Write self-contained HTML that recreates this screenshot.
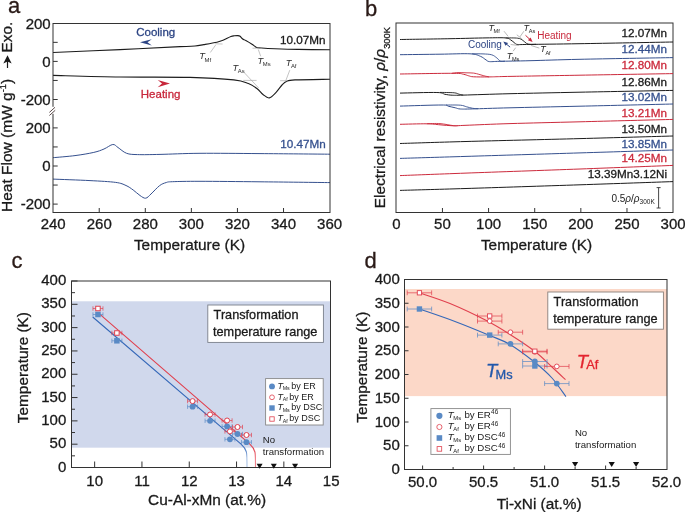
<!DOCTYPE html>
<html><head><meta charset="utf-8"><style>html,body{margin:0;padding:0;background:#fff;}svg{display:block;will-change:transform;}</style></head>
<body><svg width="685" height="512" viewBox="0 0 685 512" font-family="Liberation Sans, sans-serif">
<rect width="685" height="512" fill="#fff"/>
<text stroke="#2a1a17" stroke-width="0.3" transform="translate(8.00,12.70) scale(1,1.0)" x="0" y="0" font-size="22" fill="#2a1a17" text-anchor="start" >a</text>
<text stroke="#2a1a17" stroke-width="0.3" transform="translate(365.00,15.80) scale(1,1.0)" x="0" y="0" font-size="22" fill="#2a1a17" text-anchor="start" >b</text>
<text stroke="#2a1a17" stroke-width="0.3" transform="translate(11.50,267.80) scale(1,1.0)" x="0" y="0" font-size="22" fill="#2a1a17" text-anchor="start" >c</text>
<text stroke="#2a1a17" stroke-width="0.3" transform="translate(364.60,268.00) scale(1,1.0)" x="0" y="0" font-size="22" fill="#2a1a17" text-anchor="start" >d</text>
<path d="M53.00,52.50 C64.17,52.02 98.83,50.58 120.00,49.60 C141.17,48.62 167.50,47.20 180.00,46.60 C192.50,46.00 191.03,46.33 195.00,46.00 C198.97,45.67 200.15,45.23 203.80,44.60 C207.45,43.97 213.70,42.92 216.90,42.20 C220.10,41.48 220.67,41.25 223.00,40.30 C225.33,39.35 228.98,37.25 230.90,36.50 C232.82,35.75 233.33,35.95 234.50,35.80 C235.67,35.65 236.97,35.52 237.90,35.60 C238.83,35.68 239.30,35.73 240.10,36.30 C240.90,36.87 241.75,38.30 242.70,39.00 C243.65,39.70 244.25,39.63 245.80,40.50 C247.35,41.37 250.20,43.05 252.00,44.20 C253.80,45.35 254.98,46.77 256.60,47.40 C258.22,48.03 258.63,47.78 261.70,48.00 C264.77,48.22 268.95,48.47 275.00,48.70 C281.05,48.93 288.83,49.22 298.00,49.40 C307.17,49.58 324.67,49.73 330.00,49.80" fill="none" stroke="#1c1c1c" stroke-width="1.1" stroke-linejoin="round" />
<path d="M53.00,75.40 C64.17,75.67 97.17,76.67 120.00,77.00 C142.83,77.33 171.03,76.92 190.00,77.40 C208.97,77.88 224.07,78.87 233.80,79.90 C243.53,80.93 244.50,82.13 248.40,83.60 C252.30,85.07 254.77,86.88 257.20,88.70 C259.63,90.52 260.98,92.97 263.00,94.50 C265.02,96.03 267.12,98.27 269.30,97.90 C271.48,97.53 273.98,94.45 276.10,92.30 C278.22,90.15 280.28,86.82 282.00,85.00 C283.72,83.18 284.23,82.25 286.40,81.40 C288.57,80.55 287.73,80.25 295.00,79.90 C302.27,79.55 324.17,79.40 330.00,79.30" fill="none" stroke="#1c1c1c" stroke-width="1.1" stroke-linejoin="round" />
<path d="M53.00,157.70 C56.67,157.35 68.20,156.48 75.00,155.60 C81.80,154.72 88.97,153.50 93.80,152.40 C98.63,151.30 100.83,150.32 104.00,149.00 C107.17,147.68 110.47,144.75 112.80,144.50 C115.13,144.25 115.70,146.03 118.00,147.50 C120.30,148.97 123.33,152.12 126.60,153.30 C129.87,154.48 132.03,154.42 137.60,154.60 C143.17,154.78 149.60,154.62 160.00,154.40 C170.40,154.18 183.33,153.43 200.00,153.30 C216.67,153.17 238.33,153.45 260.00,153.60 C281.67,153.75 318.33,154.10 330.00,154.20" fill="none" stroke="#35508e" stroke-width="1.0" stroke-linejoin="round" />
<path d="M53.00,179.10 C59.17,179.35 79.55,180.05 90.00,180.60 C100.45,181.15 109.70,181.58 115.70,182.40 C121.70,183.22 123.08,184.23 126.00,185.50 C128.92,186.77 130.87,188.33 133.20,190.00 C135.53,191.67 137.92,194.13 140.00,195.50 C142.08,196.87 143.87,198.45 145.70,198.20 C147.53,197.95 148.70,196.08 151.00,194.00 C153.30,191.92 157.00,187.60 159.50,185.70 C162.00,183.80 163.82,183.27 166.00,182.60 C168.18,181.93 166.93,181.92 172.60,181.70 C178.27,181.48 185.43,181.28 200.00,181.30 C214.57,181.32 238.33,181.58 260.00,181.80 C281.67,182.02 318.33,182.47 330.00,182.60" fill="none" stroke="#35508e" stroke-width="1.0" stroke-linejoin="round" />
<line x1="215.10" y1="43.80" x2="222.60" y2="44.00" stroke="#aaaaaa" stroke-width="0.7" />
<line x1="210.30" y1="52.50" x2="215.60" y2="45.10" stroke="#aaaaaa" stroke-width="0.7" />
<line x1="252.50" y1="48.20" x2="261.70" y2="48.20" stroke="#aaaaaa" stroke-width="0.7" />
<line x1="258.30" y1="49.50" x2="260.70" y2="56.30" stroke="#aaaaaa" stroke-width="0.7" />
<line x1="243.30" y1="80.40" x2="256.60" y2="80.40" stroke="#aaaaaa" stroke-width="0.7" />
<line x1="244.30" y1="72.70" x2="258.70" y2="88.00" stroke="#aaaaaa" stroke-width="0.7" />
<line x1="280.10" y1="80.70" x2="287.30" y2="80.70" stroke="#aaaaaa" stroke-width="0.7" />
<line x1="289.80" y1="70.10" x2="285.70" y2="80.90" stroke="#aaaaaa" stroke-width="0.7" />
<rect x="53.0" y="23.5" width="277.0" height="189.0" fill="none" stroke="#333" stroke-width="1"/>
<rect x="51.5" y="106.8" width="3" height="7.0" fill="#fff"/>
<line x1="49.40" y1="112.40" x2="55.00" y2="107.30" stroke="#4a3838" stroke-width="0.9" />
<line x1="49.40" y1="115.50" x2="55.20" y2="110.30" stroke="#4a3838" stroke-width="0.9" />
<line x1="53.00" y1="42.35" x2="57.70" y2="42.35" stroke="#333" stroke-width="1" />
<line x1="53.00" y1="61.40" x2="57.70" y2="61.40" stroke="#333" stroke-width="1" />
<line x1="53.00" y1="80.45" x2="57.70" y2="80.45" stroke="#333" stroke-width="1" />
<line x1="53.00" y1="99.50" x2="57.70" y2="99.50" stroke="#333" stroke-width="1" />
<line x1="53.00" y1="127.90" x2="57.70" y2="127.90" stroke="#333" stroke-width="1" />
<line x1="53.00" y1="146.95" x2="57.70" y2="146.95" stroke="#333" stroke-width="1" />
<line x1="53.00" y1="166.00" x2="57.70" y2="166.00" stroke="#333" stroke-width="1" />
<line x1="53.00" y1="185.05" x2="57.70" y2="185.05" stroke="#333" stroke-width="1" />
<line x1="53.00" y1="204.10" x2="57.70" y2="204.10" stroke="#333" stroke-width="1" />
<text stroke="#1a1a1a" stroke-width="0.3" transform="translate(50.70,28.50) scale(1,1.0)" x="0" y="0" font-size="15" fill="#1a1a1a" text-anchor="end" >200</text>
<text stroke="#1a1a1a" stroke-width="0.3" transform="translate(50.70,133.10) scale(1,1.0)" x="0" y="0" font-size="15" fill="#1a1a1a" text-anchor="end" >200</text>
<text stroke="#1a1a1a" stroke-width="0.3" transform="translate(50.70,66.60) scale(1,1.0)" x="0" y="0" font-size="15" fill="#1a1a1a" text-anchor="end" >0</text>
<text stroke="#1a1a1a" stroke-width="0.3" transform="translate(50.70,171.20) scale(1,1.0)" x="0" y="0" font-size="15" fill="#1a1a1a" text-anchor="end" >0</text>
<text stroke="#1a1a1a" stroke-width="0.3" transform="translate(50.70,104.70) scale(1,1.0)" x="0" y="0" font-size="15" fill="#1a1a1a" text-anchor="end" >-200</text>
<text stroke="#1a1a1a" stroke-width="0.3" transform="translate(50.70,209.30) scale(1,1.0)" x="0" y="0" font-size="15" fill="#1a1a1a" text-anchor="end" >-200</text>
<line x1="99.22" y1="212.50" x2="99.22" y2="208.00" stroke="#333" stroke-width="1" />
<line x1="145.30" y1="212.50" x2="145.30" y2="208.00" stroke="#333" stroke-width="1" />
<line x1="191.37" y1="212.50" x2="191.37" y2="208.00" stroke="#333" stroke-width="1" />
<line x1="237.45" y1="212.50" x2="237.45" y2="208.00" stroke="#333" stroke-width="1" />
<line x1="283.52" y1="212.50" x2="283.52" y2="208.00" stroke="#333" stroke-width="1" />
<text stroke="#1a1a1a" stroke-width="0.3" transform="translate(53.15,228.80) scale(1,1.0)" x="0" y="0" font-size="15" fill="#1a1a1a" text-anchor="middle" >240</text>
<text stroke="#1a1a1a" stroke-width="0.3" transform="translate(99.22,228.80) scale(1,1.0)" x="0" y="0" font-size="15" fill="#1a1a1a" text-anchor="middle" >260</text>
<text stroke="#1a1a1a" stroke-width="0.3" transform="translate(145.30,228.80) scale(1,1.0)" x="0" y="0" font-size="15" fill="#1a1a1a" text-anchor="middle" >280</text>
<text stroke="#1a1a1a" stroke-width="0.3" transform="translate(191.37,228.80) scale(1,1.0)" x="0" y="0" font-size="15" fill="#1a1a1a" text-anchor="middle" >300</text>
<text stroke="#1a1a1a" stroke-width="0.3" transform="translate(237.45,228.80) scale(1,1.0)" x="0" y="0" font-size="15" fill="#1a1a1a" text-anchor="middle" >320</text>
<text stroke="#1a1a1a" stroke-width="0.3" transform="translate(283.52,228.80) scale(1,1.0)" x="0" y="0" font-size="15" fill="#1a1a1a" text-anchor="middle" >340</text>
<text stroke="#1a1a1a" stroke-width="0.3" transform="translate(329.59,228.80) scale(1,1.0)" x="0" y="0" font-size="15" fill="#1a1a1a" text-anchor="middle" >360</text>
<text stroke="#1a1a1a" stroke-width="0.3" transform="translate(189.50,250.30) scale(1,1.0)" x="0" y="0" font-size="15.4" fill="#1a1a1a" text-anchor="middle" >Temperature (K)</text>
<text stroke="#1a1a1a" stroke-width="0.3" transform="translate(11.9,212.0) rotate(-90) scale(1,1.0)" font-size="15.5" fill="#1a1a1a">Heat Flow (mW g<tspan font-size="9.2" dy="-5.8">-1</tspan><tspan dy="5.8">)</tspan></text>
<text stroke="#1a1a1a" stroke-width="0.3" transform="translate(11.8,52.4) rotate(-90) scale(1,1.0)" font-size="15.4" fill="#1a1a1a">Exo.</text>
<line x1="7.50" y1="68.00" x2="7.50" y2="60.00" stroke="#1a1a1a" stroke-width="1.2" />
<path d="M7.5,55.2 L3.3,63.6 L7.5,61.6 L11.7,63.6 Z" fill="#1a1a1a"/>
<text stroke="#1a1a1a" stroke-width="0.3" transform="translate(325.60,44.00) scale(1,1.0)" x="0" y="0" font-size="11.7" fill="#1a1a1a" text-anchor="end" >10.07Mn</text>
<text stroke="#35508e" stroke-width="0.3" transform="translate(325.80,148.00) scale(1,1.0)" x="0" y="0" font-size="11.7" fill="#35508e" text-anchor="end" >10.47Mn</text>
<text stroke="#2d4584" stroke-width="0.3" transform="translate(136.20,36.30) scale(1,1.0)" x="0" y="0" font-size="11.5" fill="#2d4584" text-anchor="start" >Cooling</text>
<text stroke="#c8283c" stroke-width="0.3" transform="translate(140.80,98.00) scale(1,1.0)" x="0" y="0" font-size="11.5" fill="#c8283c" text-anchor="start" >Heating</text>
<path d="M140,42.3 L151.8,39.2 L147.5,42.3 L151.8,45.4 Z" fill="#2d4584"/>
<path d="M170,83.6 L157.7,80 L162,83.6 L157.7,87.2 Z" fill="#c8283c"/>
<text transform="translate(199.30,59.20) scale(1,1.0)" x="0" y="0" font-size="9.3" fill="#2a2a2a"><tspan font-style="italic">T</tspan><tspan font-size="5.9" dx="-0.5" dy="2.4">Mf</tspan></text>
<text transform="translate(257.60,63.70) scale(1,1.0)" x="0" y="0" font-size="9.3" fill="#2a2a2a"><tspan font-style="italic">T</tspan><tspan font-size="5.9" dx="-0.5" dy="2.4">Ms</tspan></text>
<text transform="translate(232.60,70.70) scale(1,1.0)" x="0" y="0" font-size="9.3" fill="#2a2a2a"><tspan font-style="italic">T</tspan><tspan font-size="5.9" dx="-0.5" dy="2.4">As</tspan></text>
<text transform="translate(285.70,65.50) scale(1,1.0)" x="0" y="0" font-size="9.3" fill="#2a2a2a"><tspan font-style="italic">T</tspan><tspan font-size="5.9" dx="-0.5" dy="2.4">Af</tspan></text>
<rect x="396.0" y="23.0" width="277.0" height="189.5" fill="none" stroke="#333" stroke-width="1"/>
<line x1="442.44" y1="212.50" x2="442.44" y2="208.00" stroke="#333" stroke-width="1" />
<line x1="488.57" y1="212.50" x2="488.57" y2="208.00" stroke="#333" stroke-width="1" />
<line x1="534.71" y1="212.50" x2="534.71" y2="208.00" stroke="#333" stroke-width="1" />
<line x1="580.84" y1="212.50" x2="580.84" y2="208.00" stroke="#333" stroke-width="1" />
<line x1="626.98" y1="212.50" x2="626.98" y2="208.00" stroke="#333" stroke-width="1" />
<text stroke="#1a1a1a" stroke-width="0.3" transform="translate(396.30,228.80) scale(1,1.0)" x="0" y="0" font-size="15" fill="#1a1a1a" text-anchor="middle" >0</text>
<text stroke="#1a1a1a" stroke-width="0.3" transform="translate(442.44,228.80) scale(1,1.0)" x="0" y="0" font-size="15" fill="#1a1a1a" text-anchor="middle" >50</text>
<text stroke="#1a1a1a" stroke-width="0.3" transform="translate(488.57,228.80) scale(1,1.0)" x="0" y="0" font-size="15" fill="#1a1a1a" text-anchor="middle" >100</text>
<text stroke="#1a1a1a" stroke-width="0.3" transform="translate(534.71,228.80) scale(1,1.0)" x="0" y="0" font-size="15" fill="#1a1a1a" text-anchor="middle" >150</text>
<text stroke="#1a1a1a" stroke-width="0.3" transform="translate(580.84,228.80) scale(1,1.0)" x="0" y="0" font-size="15" fill="#1a1a1a" text-anchor="middle" >200</text>
<text stroke="#1a1a1a" stroke-width="0.3" transform="translate(626.98,228.80) scale(1,1.0)" x="0" y="0" font-size="15" fill="#1a1a1a" text-anchor="middle" >250</text>
<text stroke="#1a1a1a" stroke-width="0.3" transform="translate(673.11,228.80) scale(1,1.0)" x="0" y="0" font-size="15" fill="#1a1a1a" text-anchor="middle" >300</text>
<text stroke="#1a1a1a" stroke-width="0.3" transform="translate(536.50,250.30) scale(1,1.0)" x="0" y="0" font-size="15.4" fill="#1a1a1a" text-anchor="middle" >Temperature (K)</text>
<text stroke="#1a1a1a" stroke-width="0.3" transform="translate(385.0,208.2) rotate(-90) scale(1,1.0)" font-size="15.4" fill="#1a1a1a">Electrical resistivity, <tspan font-style="italic">ρ</tspan>/<tspan font-style="italic">ρ</tspan><tspan font-size="9.3" dy="5.2">300K</tspan></text>
<path d="M400.00,39.50 C408.33,39.37 435.67,38.97 450.00,38.70 C464.33,38.43 476.75,38.03 486.00,37.90 C495.25,37.77 501.38,37.57 505.50,37.90 C509.62,38.23 509.17,39.05 510.70,39.90 C512.23,40.75 513.52,42.23 514.70,43.00 C515.88,43.77 515.25,44.27 517.80,44.50 C520.35,44.73 519.63,44.53 530.00,44.40 C540.37,44.27 556.17,44.10 580.00,43.70 C603.83,43.30 657.50,42.28 673.00,42.00" fill="none" stroke="#1c1c1c" stroke-width="1.0" stroke-linejoin="round" />
<path d="M400.00,54.70 C406.67,54.62 428.33,54.35 440.00,54.20 C451.67,54.05 463.27,53.45 470.00,53.80 C476.73,54.15 477.73,55.28 480.40,56.30 C483.07,57.32 484.48,59.02 486.00,59.90 C487.52,60.78 487.17,61.37 489.50,61.60 C491.83,61.83 493.25,61.45 500.00,61.30 C506.75,61.15 516.67,61.03 530.00,60.70 C543.33,60.37 556.17,59.82 580.00,59.30 C603.83,58.78 657.50,57.88 673.00,57.60" fill="none" stroke="#35508e" stroke-width="1.0" stroke-linejoin="round" />
<path d="M400.00,74.00 C408.83,73.88 442.42,73.25 453.00,73.30 C463.58,73.35 460.90,73.88 463.50,74.30 C466.10,74.72 466.90,75.38 468.60,75.80 C470.30,76.22 470.30,76.62 473.70,76.80 C477.10,76.98 482.95,76.97 489.00,76.90 C495.05,76.83 494.83,76.68 510.00,76.40 C525.17,76.12 552.83,75.67 580.00,75.20 C607.17,74.73 657.50,73.87 673.00,73.60" fill="none" stroke="#cc2a3c" stroke-width="1.0" stroke-linejoin="round" />
<path d="M400.00,93.10 C406.15,93.00 429.40,92.30 436.90,92.50 C444.40,92.70 442.45,93.85 445.00,94.30 C447.55,94.75 449.13,95.07 452.20,95.20 C455.27,95.33 453.77,95.35 463.40,95.10 C473.03,94.85 490.57,94.18 510.00,93.70 C529.43,93.22 552.83,92.75 580.00,92.20 C607.17,91.65 657.50,90.70 673.00,90.40" fill="none" stroke="#1c1c1c" stroke-width="1.0" stroke-linejoin="round" />
<path d="M400.00,106.10 C407.00,105.92 433.97,104.98 442.00,105.00 C450.03,105.02 445.98,105.73 448.20,106.20 C450.42,106.67 453.27,107.33 455.30,107.80 C457.33,108.27 457.50,108.82 460.40,109.00 C463.30,109.18 464.43,109.10 472.70,108.90 C480.97,108.70 492.12,108.25 510.00,107.80 C527.88,107.35 552.83,106.83 580.00,106.20 C607.17,105.57 657.50,104.37 673.00,104.00" fill="none" stroke="#35508e" stroke-width="1.0" stroke-linejoin="round" />
<path d="M400.00,124.30 C404.45,124.22 420.03,123.72 426.70,123.80 C433.37,123.88 435.58,124.47 440.00,124.80 C444.42,125.13 448.87,125.72 453.20,125.80 C457.53,125.88 456.53,125.67 466.00,125.30 C475.47,124.93 491.00,124.18 510.00,123.60 C529.00,123.02 552.83,122.50 580.00,121.80 C607.17,121.10 657.50,119.80 673.00,119.40" fill="none" stroke="#cc2a3c" stroke-width="1.0" stroke-linejoin="round" />
<path d="M400.00,143.50 C411.00,143.17 436.00,142.32 466.00,141.50 C496.00,140.68 545.50,139.52 580.00,138.60 C614.50,137.68 657.50,136.43 673.00,136.00" fill="none" stroke="#1c1c1c" stroke-width="1.0" stroke-linejoin="round" />
<path d="M400.00,158.40 C411.00,158.07 436.00,157.32 466.00,156.40 C496.00,155.48 545.50,153.97 580.00,152.90 C614.50,151.83 657.50,150.48 673.00,150.00" fill="none" stroke="#35508e" stroke-width="1.0" stroke-linejoin="round" />
<path d="M400.00,175.60 C411.00,175.18 436.00,174.20 466.00,173.10 C496.00,172.00 545.50,170.28 580.00,169.00 C614.50,167.72 657.50,166.00 673.00,165.40" fill="none" stroke="#cc2a3c" stroke-width="1.0" stroke-linejoin="round" />
<path d="M400.00,190.40 C411.00,190.08 436.00,189.43 466.00,188.50 C496.00,187.57 545.50,185.95 580.00,184.80 C614.50,183.65 657.50,182.13 673.00,181.60" fill="none" stroke="#1c1c1c" stroke-width="1.0" stroke-linejoin="round" />
<path d="M505.50,37.90 C507.55,37.95 514.90,37.78 517.80,38.20 C520.70,38.62 521.45,39.53 522.90,40.40 C524.35,41.27 525.30,42.73 526.50,43.40 C527.70,44.07 528.52,44.25 530.10,44.40 C531.68,44.55 535.02,44.32 536.00,44.30" fill="none" stroke="#1c1c1c" stroke-width="0.9" stroke-linejoin="round" />
<path d="M472.00,53.80 C473.83,53.82 479.72,53.73 483.00,53.90 C486.28,54.07 489.40,54.13 491.70,54.80 C494.00,55.47 495.35,56.85 496.80,57.90 C498.25,58.95 499.03,60.55 500.40,61.10 C501.77,61.65 504.23,61.18 505.00,61.20" fill="none" stroke="#35508e" stroke-width="0.9" stroke-linejoin="round" />
<path d="M452.00,73.30 C453.00,73.18 455.67,72.68 458.00,72.60 C460.33,72.52 463.38,72.72 466.00,72.80 C468.62,72.88 471.57,72.85 473.70,73.10 C475.83,73.35 477.10,73.85 478.80,74.30 C480.50,74.75 482.20,75.37 483.90,75.80 C485.60,76.23 488.15,76.72 489.00,76.90" fill="none" stroke="#cc2a3c" stroke-width="0.9" stroke-linejoin="round" />
<path d="M440.00,92.40 C442.37,92.47 450.97,92.48 454.20,92.80 C457.43,93.12 457.87,93.92 459.40,94.30 C460.93,94.68 462.73,94.97 463.40,95.10" fill="none" stroke="#1c1c1c" stroke-width="0.9" stroke-linejoin="round" />
<path d="M446.00,105.00 C448.40,105.03 456.97,104.90 460.40,105.20 C463.83,105.50 464.55,106.28 466.60,106.80 C468.65,107.32 470.80,107.98 472.70,108.30 C474.60,108.62 477.12,108.63 478.00,108.70" fill="none" stroke="#35508e" stroke-width="0.9" stroke-linejoin="round" />
<path d="M426.70,123.70 C428.92,123.68 435.58,123.28 440.00,123.60 C444.42,123.92 450.20,125.27 453.20,125.60 C456.20,125.93 457.20,125.60 458.00,125.60" fill="none" stroke="#cc2a3c" stroke-width="0.9" stroke-linejoin="round" />
<text transform="translate(488.40,30.80) scale(1,1.0)" x="0" y="0" font-size="9.0" fill="#222"><tspan font-style="italic">T</tspan><tspan font-size="5.6" dx="-0.4" dy="2.2">Mf</tspan></text>
<text transform="translate(523.60,30.80) scale(1,1.0)" x="0" y="0" font-size="9.0" fill="#222"><tspan font-style="italic">T</tspan><tspan font-size="5.6" dx="-0.4" dy="2.2">As</tspan></text>
<text transform="translate(506.80,58.60) scale(1,1.0)" x="0" y="0" font-size="9.0" fill="#222"><tspan font-style="italic">T</tspan><tspan font-size="5.6" dx="-0.4" dy="2.2">Ms</tspan></text>
<text transform="translate(540.30,52.30) scale(1,1.0)" x="0" y="0" font-size="9.0" fill="#222"><tspan font-style="italic">T</tspan><tspan font-size="5.6" dx="-0.4" dy="2.2">Af</tspan></text>
<line x1="504.00" y1="31.20" x2="508.10" y2="36.30" stroke="#8a8a8a" stroke-width="0.6" />
<line x1="523.90" y1="31.20" x2="519.90" y2="36.90" stroke="#8a8a8a" stroke-width="0.6" />
<line x1="516.80" y1="34.80" x2="521.90" y2="38.90" stroke="#8a8a8a" stroke-width="0.6" />
<line x1="510.70" y1="44.50" x2="518.80" y2="45.50" stroke="#8a8a8a" stroke-width="0.6" />
<line x1="531.10" y1="45.50" x2="539.30" y2="48.10" stroke="#8a8a8a" stroke-width="0.6" />
<line x1="513.10" y1="51.20" x2="515.70" y2="47.70" stroke="#8a8a8a" stroke-width="0.6" />
<text transform="translate(537.20,38.60) scale(1,1.0)" x="0" y="0" font-size="10" fill="#c8283c" text-anchor="start" >Heating</text>
<text transform="translate(468.00,48.30) scale(1,1.0)" x="0" y="0" font-size="10" fill="#2d4584" text-anchor="start" >Cooling</text>
<line x1="525.50" y1="35.30" x2="530.50" y2="40.00" stroke="#c8283c" stroke-width="1.0" />
<path d="M532.6,42.0 L527.9,40.2 L530.6,37.6 Z" fill="#c8283c"/>
<line x1="510.10" y1="47.10" x2="505.30" y2="43.20" stroke="#2d4584" stroke-width="1.0" />
<path d="M503.3,41.5 L508.1,42.9 L505.6,45.7 Z" fill="#2d4584"/>
<text stroke="#1a1a1a" stroke-width="0.3" transform="translate(667.00,36.90) scale(1,1.0)" x="0" y="0" font-size="11.7" fill="#1a1a1a" text-anchor="end" >12.07Mn</text>
<text stroke="#35508e" stroke-width="0.3" transform="translate(667.00,53.00) scale(1,1.0)" x="0" y="0" font-size="11.7" fill="#35508e" text-anchor="end" >12.44Mn</text>
<text stroke="#cc2a3c" stroke-width="0.3" transform="translate(667.00,69.00) scale(1,1.0)" x="0" y="0" font-size="11.7" fill="#cc2a3c" text-anchor="end" >12.80Mn</text>
<text stroke="#1a1a1a" stroke-width="0.3" transform="translate(667.00,85.60) scale(1,1.0)" x="0" y="0" font-size="11.7" fill="#1a1a1a" text-anchor="end" >12.86Mn</text>
<text stroke="#35508e" stroke-width="0.3" transform="translate(667.00,101.40) scale(1,1.0)" x="0" y="0" font-size="11.7" fill="#35508e" text-anchor="end" >13.02Mn</text>
<text stroke="#cc2a3c" stroke-width="0.3" transform="translate(667.00,117.00) scale(1,1.0)" x="0" y="0" font-size="11.7" fill="#cc2a3c" text-anchor="end" >13.21Mn</text>
<text stroke="#1a1a1a" stroke-width="0.3" transform="translate(667.00,132.80) scale(1,1.0)" x="0" y="0" font-size="11.7" fill="#1a1a1a" text-anchor="end" >13.50Mn</text>
<text stroke="#35508e" stroke-width="0.3" transform="translate(667.00,148.00) scale(1,1.0)" x="0" y="0" font-size="11.7" fill="#35508e" text-anchor="end" >13.85Mn</text>
<text stroke="#cc2a3c" stroke-width="0.3" transform="translate(667.00,162.40) scale(1,1.0)" x="0" y="0" font-size="11.7" fill="#cc2a3c" text-anchor="end" >14.25Mn</text>
<text stroke="#1a1a1a" stroke-width="0.3" transform="translate(667.00,178.40) scale(1,1.0)" x="0" y="0" font-size="11.7" fill="#1a1a1a" text-anchor="end" >13.39Mn3.12Ni</text>
<line x1="658.60" y1="187.60" x2="658.60" y2="208.00" stroke="#333" stroke-width="0.9" />
<line x1="656.60" y1="187.60" x2="660.60" y2="187.60" stroke="#333" stroke-width="0.9" />
<line x1="656.60" y1="208.00" x2="660.60" y2="208.00" stroke="#333" stroke-width="0.9" />
<text transform="translate(611.4,201.5) scale(1,1.0)" x="0" y="0" font-size="10" fill="#1a1a1a">0.5<tspan font-style="italic">ρ</tspan>/<tspan font-style="italic">ρ</tspan><tspan font-size="6.5" dy="2.5">300K</tspan></text>
<rect x="71.5" y="301.28" width="259.0" height="146.40" fill="#d0d8ec"/>
<rect x="404.5" y="289.00" width="262.5" height="107.11" fill="#fcd8c8"/>
<defs><linearGradient id="gb" gradientUnits="userSpaceOnUse" x1="0" y1="446" x2="0" y2="458"><stop offset="0" stop-color="#3568b8"/><stop offset="1" stop-color="#a9c2e4"/></linearGradient><linearGradient id="gr" gradientUnits="userSpaceOnUse" x1="0" y1="448" x2="0" y2="460"><stop offset="0" stop-color="#e0404e"/><stop offset="1" stop-color="#f0808a"/></linearGradient></defs>
<path d="M92.7,317.0 L240.8,443.9 C243.5,446.3 245.6,449.0 246.4,452.0 C247.0,455 247.0,458 247.0,467.2" fill="none" stroke="url(#gb)" stroke-width="1.1"/>
<path d="M98.5,313.2 L249.6,443.9 C252.3,446.3 254.3,449.5 255.0,452.3 C255.5,455 255.5,458 255.5,467.2" fill="none" stroke="url(#gr)" stroke-width="1.1"/>
<path d="M92.96,308.50 H102.96 M92.96,306.30 V310.70 M102.96,306.30 V310.70" stroke="#e0404e" stroke-width="0.8" fill="none" opacity="0.85"/>
<path d="M92.96,314.50 H102.96 M92.96,312.30 V316.70 M102.96,312.30 V316.70" stroke="#5a8ac5" stroke-width="0.8" fill="none" opacity="0.85"/>
<path d="M111.88,333.00 H121.88 M111.88,330.80 V335.20 M121.88,330.80 V335.20" stroke="#e0404e" stroke-width="0.8" fill="none" opacity="0.85"/>
<path d="M111.88,340.80 H121.88 M111.88,338.60 V343.00 M121.88,338.60 V343.00" stroke="#5a8ac5" stroke-width="0.8" fill="none" opacity="0.85"/>
<path d="M187.56,401.10 H197.56 M187.56,398.90 V403.30 M197.56,398.90 V403.30" stroke="#e0404e" stroke-width="0.8" fill="none" opacity="0.85"/>
<path d="M187.56,406.70 H197.56 M187.56,404.50 V408.90 M197.56,404.50 V408.90" stroke="#5a8ac5" stroke-width="0.8" fill="none" opacity="0.85"/>
<path d="M205.06,414.50 H215.06 M205.06,412.30 V416.70 M215.06,412.30 V416.70" stroke="#e0404e" stroke-width="0.8" fill="none" opacity="0.85"/>
<path d="M205.06,420.80 H215.06 M205.06,418.60 V423.00 M215.06,418.60 V423.00" stroke="#5a8ac5" stroke-width="0.8" fill="none" opacity="0.85"/>
<path d="M222.09,420.50 H232.09 M222.09,418.30 V422.70 M232.09,418.30 V422.70" stroke="#e0404e" stroke-width="0.8" fill="none" opacity="0.85"/>
<path d="M222.09,426.40 H232.09 M222.09,424.20 V428.60 M232.09,424.20 V428.60" stroke="#5a8ac5" stroke-width="0.8" fill="none" opacity="0.85"/>
<path d="M224.93,431.40 H234.93 M224.93,429.20 V433.60 M234.93,429.20 V433.60" stroke="#e0404e" stroke-width="0.8" fill="none" opacity="0.85"/>
<path d="M224.93,439.30 H234.93 M224.93,437.10 V441.50 M234.93,437.10 V441.50" stroke="#5a8ac5" stroke-width="0.8" fill="none" opacity="0.85"/>
<path d="M232.50,427.00 H242.50 M232.50,424.80 V429.20 M242.50,424.80 V429.20" stroke="#e0404e" stroke-width="0.8" fill="none" opacity="0.85"/>
<path d="M232.50,434.00 H242.50 M232.50,431.80 V436.20 M242.50,431.80 V436.20" stroke="#5a8ac5" stroke-width="0.8" fill="none" opacity="0.85"/>
<path d="M241.48,435.00 H251.48 M241.48,432.80 V437.20 M251.48,432.80 V437.20" stroke="#e0404e" stroke-width="0.8" fill="none" opacity="0.85"/>
<path d="M241.48,442.20 H251.48 M241.48,440.00 V444.40 M251.48,440.00 V444.40" stroke="#5a8ac5" stroke-width="0.8" fill="none" opacity="0.85"/>
<rect x="95.21" y="311.75" width="5.5" height="5.5" fill="#5a8ac5"/>
<rect x="95.71" y="306.25" width="4.5" height="4.5" fill="#fff" stroke="#e0404e" stroke-width="1.0"/>
<rect x="114.13" y="338.05" width="5.5" height="5.5" fill="#5a8ac5"/>
<rect x="114.63" y="330.75" width="4.5" height="4.5" fill="#fff" stroke="#e0404e" stroke-width="1.0"/>
<circle cx="192.56" cy="406.70" r="2.9" fill="#5a8ac5"/>
<circle cx="192.56" cy="401.10" r="2.5" fill="#fff" stroke="#e0404e" stroke-width="1.0"/>
<circle cx="210.06" cy="420.80" r="2.9" fill="#5a8ac5"/>
<circle cx="210.06" cy="414.50" r="2.5" fill="#fff" stroke="#e0404e" stroke-width="1.0"/>
<circle cx="227.09" cy="426.40" r="2.9" fill="#5a8ac5"/>
<circle cx="227.09" cy="420.50" r="2.5" fill="#fff" stroke="#e0404e" stroke-width="1.0"/>
<circle cx="229.93" cy="439.30" r="2.9" fill="#5a8ac5"/>
<circle cx="229.93" cy="431.40" r="2.5" fill="#fff" stroke="#e0404e" stroke-width="1.0"/>
<circle cx="237.50" cy="434.00" r="2.9" fill="#5a8ac5"/>
<circle cx="237.50" cy="427.00" r="2.5" fill="#fff" stroke="#e0404e" stroke-width="1.0"/>
<circle cx="246.48" cy="442.20" r="2.9" fill="#5a8ac5"/>
<circle cx="246.48" cy="435.00" r="2.5" fill="#fff" stroke="#e0404e" stroke-width="1.0"/>
<rect x="71.5" y="281.0" width="259.0" height="186.5" fill="none" stroke="#333" stroke-width="1"/>
<line x1="71.50" y1="467.50" x2="77.50" y2="467.50" stroke="#333" stroke-width="1" />
<text stroke="#1a1a1a" stroke-width="0.3" transform="translate(66.30,471.50) scale(1,1.0)" x="0" y="0" font-size="15" fill="#1a1a1a" text-anchor="end" >0</text>
<line x1="71.50" y1="444.19" x2="77.50" y2="444.19" stroke="#333" stroke-width="1" />
<text stroke="#1a1a1a" stroke-width="0.3" transform="translate(66.30,448.19) scale(1,1.0)" x="0" y="0" font-size="15" fill="#1a1a1a" text-anchor="end" >50</text>
<line x1="71.50" y1="420.88" x2="77.50" y2="420.88" stroke="#333" stroke-width="1" />
<text stroke="#1a1a1a" stroke-width="0.3" transform="translate(66.30,424.88) scale(1,1.0)" x="0" y="0" font-size="15" fill="#1a1a1a" text-anchor="end" >100</text>
<line x1="71.50" y1="397.56" x2="77.50" y2="397.56" stroke="#333" stroke-width="1" />
<text stroke="#1a1a1a" stroke-width="0.3" transform="translate(66.30,401.56) scale(1,1.0)" x="0" y="0" font-size="15" fill="#1a1a1a" text-anchor="end" >150</text>
<line x1="71.50" y1="374.25" x2="77.50" y2="374.25" stroke="#333" stroke-width="1" />
<text stroke="#1a1a1a" stroke-width="0.3" transform="translate(66.30,378.25) scale(1,1.0)" x="0" y="0" font-size="15" fill="#1a1a1a" text-anchor="end" >200</text>
<line x1="71.50" y1="350.94" x2="77.50" y2="350.94" stroke="#333" stroke-width="1" />
<text stroke="#1a1a1a" stroke-width="0.3" transform="translate(66.30,354.94) scale(1,1.0)" x="0" y="0" font-size="15" fill="#1a1a1a" text-anchor="end" >250</text>
<line x1="71.50" y1="327.62" x2="77.50" y2="327.62" stroke="#333" stroke-width="1" />
<text stroke="#1a1a1a" stroke-width="0.3" transform="translate(66.30,331.62) scale(1,1.0)" x="0" y="0" font-size="15" fill="#1a1a1a" text-anchor="end" >300</text>
<line x1="71.50" y1="304.31" x2="77.50" y2="304.31" stroke="#333" stroke-width="1" />
<text stroke="#1a1a1a" stroke-width="0.3" transform="translate(66.30,308.31) scale(1,1.0)" x="0" y="0" font-size="15" fill="#1a1a1a" text-anchor="end" >350</text>
<line x1="71.50" y1="281.00" x2="77.50" y2="281.00" stroke="#333" stroke-width="1" />
<text stroke="#1a1a1a" stroke-width="0.3" transform="translate(66.30,285.00) scale(1,1.0)" x="0" y="0" font-size="15" fill="#1a1a1a" text-anchor="end" >400</text>
<line x1="71.50" y1="455.84" x2="75.00" y2="455.84" stroke="#333" stroke-width="1" />
<line x1="71.50" y1="432.53" x2="75.00" y2="432.53" stroke="#333" stroke-width="1" />
<line x1="71.50" y1="409.22" x2="75.00" y2="409.22" stroke="#333" stroke-width="1" />
<line x1="71.50" y1="385.91" x2="75.00" y2="385.91" stroke="#333" stroke-width="1" />
<line x1="71.50" y1="362.59" x2="75.00" y2="362.59" stroke="#333" stroke-width="1" />
<line x1="71.50" y1="339.28" x2="75.00" y2="339.28" stroke="#333" stroke-width="1" />
<line x1="71.50" y1="315.97" x2="75.00" y2="315.97" stroke="#333" stroke-width="1" />
<line x1="71.50" y1="292.66" x2="75.00" y2="292.66" stroke="#333" stroke-width="1" />
<line x1="94.65" y1="467.50" x2="94.65" y2="461.50" stroke="#333" stroke-width="1" />
<line x1="141.95" y1="467.50" x2="141.95" y2="461.50" stroke="#333" stroke-width="1" />
<line x1="189.25" y1="467.50" x2="189.25" y2="461.50" stroke="#333" stroke-width="1" />
<line x1="236.55" y1="467.50" x2="236.55" y2="461.50" stroke="#333" stroke-width="1" />
<line x1="283.85" y1="467.50" x2="283.85" y2="461.50" stroke="#333" stroke-width="1" />
<text stroke="#1a1a1a" stroke-width="0.3" transform="translate(94.65,486.30) scale(1,1.0)" x="0" y="0" font-size="15" fill="#1a1a1a" text-anchor="middle" >10</text>
<text stroke="#1a1a1a" stroke-width="0.3" transform="translate(141.95,486.30) scale(1,1.0)" x="0" y="0" font-size="15" fill="#1a1a1a" text-anchor="middle" >11</text>
<text stroke="#1a1a1a" stroke-width="0.3" transform="translate(189.25,486.30) scale(1,1.0)" x="0" y="0" font-size="15" fill="#1a1a1a" text-anchor="middle" >12</text>
<text stroke="#1a1a1a" stroke-width="0.3" transform="translate(236.55,486.30) scale(1,1.0)" x="0" y="0" font-size="15" fill="#1a1a1a" text-anchor="middle" >13</text>
<text stroke="#1a1a1a" stroke-width="0.3" transform="translate(283.85,486.30) scale(1,1.0)" x="0" y="0" font-size="15" fill="#1a1a1a" text-anchor="middle" >14</text>
<text stroke="#1a1a1a" stroke-width="0.3" transform="translate(331.15,486.30) scale(1,1.0)" x="0" y="0" font-size="15" fill="#1a1a1a" text-anchor="middle" >15</text>
<text stroke="#1a1a1a" stroke-width="0.3" transform="translate(207.10,505.00) scale(1,1.0)" x="0" y="0" font-size="15.4" fill="#1a1a1a" text-anchor="middle" >Cu-Al-xMn (at.%)</text>
<text stroke="#1a1a1a" stroke-width="0.3" transform="translate(27.5,423.2) rotate(-90) scale(1,1.0)" font-size="15.4" fill="#1a1a1a">Temperature (K)</text>
<path d="M256.60,463.7 L262.60,463.7 L259.60,468.8 Z" fill="#111"/>
<path d="M270.79,463.7 L276.79,463.7 L273.79,468.8 Z" fill="#111"/>
<path d="M292.07,463.7 L298.07,463.7 L295.07,468.8 Z" fill="#111"/>
<text transform="translate(262.70,443.40) scale(1,1.0)" x="0" y="0" font-size="9.6" fill="#1a1a1a" text-anchor="start" >No</text>
<text transform="translate(262.80,455.10) scale(1,1.0)" x="0" y="0" font-size="9.6" fill="#1a1a1a" text-anchor="start" >transformation</text>
<rect x="207.8" y="305.0" width="115.6" height="37.4" fill="#fff" stroke="#7a7f8a" stroke-width="0.9"/>
<text stroke="#1a1a1a" stroke-width="0.3" transform="translate(213.60,319.40) scale(1,1.0)" x="0" y="0" font-size="12.7" fill="#1a1a1a" text-anchor="start" >Transformation</text>
<text stroke="#1a1a1a" stroke-width="0.3" transform="translate(213.00,336.20) scale(1,1.0)" x="0" y="0" font-size="12.7" fill="#1a1a1a" text-anchor="start" >temperature range</text>
<rect x="265.6" y="378.6" width="57.6" height="46.4" fill="#fff" stroke="#888" stroke-width="0.9"/>
<circle cx="272.00" cy="386.40" r="2.95" fill="#5a8ac5"/>
<text transform="translate(277.40,388.60) scale(1,1.0)" x="0" y="0" font-size="9.0" fill="#1a1a1a"><tspan font-style="italic">T</tspan><tspan font-size="5.3" dx="-0.2" dy="1.6">Ms</tspan><tspan dy="-1.6" dx="1.5">by ER</tspan></text>
<circle cx="272.00" cy="397.30" r="2.4" fill="#fff" stroke="#e0404e" stroke-width="0.8"/>
<text transform="translate(277.40,399.50) scale(1,1.0)" x="0" y="0" font-size="9.0" fill="#1a1a1a"><tspan font-style="italic">T</tspan><tspan font-size="5.3" dx="-0.2" dy="1.6">Af</tspan><tspan dy="-1.6" dx="1.5">by ER</tspan></text>
<rect x="269.30" y="405.30" width="5.4" height="5.4" fill="#5a8ac5"/>
<text transform="translate(277.40,410.20) scale(1,1.0)" x="0" y="0" font-size="9.0" fill="#1a1a1a"><tspan font-style="italic">T</tspan><tspan font-size="5.3" dx="-0.2" dy="1.6">Ms</tspan><tspan dy="-1.6" dx="1.5">by DSC</tspan></text>
<rect x="269.80" y="416.80" width="4.4" height="4.4" fill="#fff" stroke="#e0404e" stroke-width="0.8"/>
<text transform="translate(277.40,421.20) scale(1,1.0)" x="0" y="0" font-size="9.0" fill="#1a1a1a"><tspan font-style="italic">T</tspan><tspan font-size="5.3" dx="-0.2" dy="1.6">Af</tspan><tspan dy="-1.6" dx="1.5">by DSC</tspan></text>
<path d="M419.40,292.80 C424.50,294.58 439.00,298.95 450.00,303.50 C461.00,308.05 475.40,314.93 485.40,320.10 C495.40,325.27 501.73,329.27 510.00,334.50 C518.27,339.73 528.00,346.08 535.00,351.50 C542.00,356.92 546.92,362.30 552.00,367.00 C557.08,371.70 563.25,377.58 565.50,379.70" fill="none" stroke="#e0404e" stroke-width="1.1"/>
<path d="M419.40,309.00 C425.33,311.08 443.48,317.17 455.00,321.50 C466.52,325.83 479.33,331.17 488.50,335.00 C497.67,338.83 502.25,339.92 510.00,344.50 C517.75,349.08 528.00,356.92 535.00,362.50 C542.00,368.08 546.85,372.32 552.00,378.00 C557.15,383.68 563.58,393.50 565.90,396.60" fill="none" stroke="#3568b8" stroke-width="1.1"/>
<path d="M407.23,292.80 H431.63 M407.23,290.40 V295.20 M431.63,290.40 V295.20" stroke="#e0404e" stroke-width="0.9" fill="none" opacity="0.8"/>
<path d="M407.23,309.00 H431.63 M407.23,306.60 V311.40 M431.63,306.60 V311.40" stroke="#5a8ac5" stroke-width="0.9" fill="none" opacity="0.8"/>
<path d="M477.50,316.00 H501.90 M477.50,313.60 V318.40 M501.90,313.60 V318.40" stroke="#e0404e" stroke-width="0.9" fill="none" opacity="0.8"/>
<path d="M477.50,321.10 H501.90 M477.50,318.70 V323.50 M501.90,318.70 V323.50" stroke="#e0404e" stroke-width="0.9" fill="none" opacity="0.8"/>
<path d="M477.50,335.10 H501.90 M477.50,332.70 V337.50 M501.90,332.70 V337.50" stroke="#5a8ac5" stroke-width="0.9" fill="none" opacity="0.8"/>
<path d="M498.24,332.20 H522.64 M498.24,329.80 V334.60 M522.64,329.80 V334.60" stroke="#e0404e" stroke-width="0.9" fill="none" opacity="0.8"/>
<path d="M498.24,343.90 H522.64 M498.24,341.50 V346.30 M522.64,341.50 V346.30" stroke="#5a8ac5" stroke-width="0.9" fill="none" opacity="0.8"/>
<path d="M522.64,351.20 H547.04 M522.64,348.80 V353.60 M547.04,348.80 V353.60" stroke="#e0404e" stroke-width="0.9" fill="none" opacity="0.8"/>
<path d="M522.64,351.90 H547.04 M522.64,349.50 V354.30 M547.04,349.50 V354.30" stroke="#e0404e" stroke-width="0.9" fill="none" opacity="0.8"/>
<path d="M522.64,361.50 H547.04 M522.64,359.10 V363.90 M547.04,359.10 V363.90" stroke="#5a8ac5" stroke-width="0.9" fill="none" opacity="0.8"/>
<path d="M522.64,366.00 H547.04 M522.64,363.60 V368.40 M547.04,363.60 V368.40" stroke="#5a8ac5" stroke-width="0.9" fill="none" opacity="0.8"/>
<path d="M544.60,366.40 H569.00 M544.60,364.00 V368.80 M569.00,364.00 V368.80" stroke="#e0404e" stroke-width="0.9" fill="none" opacity="0.8"/>
<path d="M544.60,383.60 H569.00 M544.60,381.20 V386.00 M569.00,381.20 V386.00" stroke="#5a8ac5" stroke-width="0.9" fill="none" opacity="0.8"/>
<rect x="417.28" y="290.65" width="4.3" height="4.3" fill="#fff" stroke="#e0404e" stroke-width="0.9"/>
<rect x="416.73" y="306.30" width="5.4" height="5.4" fill="#5a8ac5"/>
<rect x="487.55" y="313.85" width="4.3" height="4.3" fill="#fff" stroke="#e0404e" stroke-width="0.9"/>
<circle cx="489.70" cy="321.10" r="2.3499999999999996" fill="#fff" stroke="#e0404e" stroke-width="0.9"/>
<rect x="487.00" y="332.40" width="5.4" height="5.4" fill="#5a8ac5"/>
<circle cx="510.44" cy="332.20" r="2.3499999999999996" fill="#fff" stroke="#e0404e" stroke-width="0.9"/>
<circle cx="510.44" cy="343.90" r="2.9" fill="#5a8ac5"/>
<circle cx="534.84" cy="351.90" r="2.3499999999999996" fill="#fff" stroke="#e0404e" stroke-width="0.9"/>
<rect x="532.69" y="349.05" width="4.3" height="4.3" fill="#fff" stroke="#e0404e" stroke-width="0.9"/>
<circle cx="534.84" cy="361.50" r="2.9" fill="#5a8ac5"/>
<rect x="532.14" y="363.30" width="5.4" height="5.4" fill="#5a8ac5"/>
<circle cx="556.80" cy="366.40" r="2.3499999999999996" fill="#fff" stroke="#e0404e" stroke-width="0.9"/>
<circle cx="556.80" cy="383.60" r="2.9" fill="#5a8ac5"/>
<rect x="404.5" y="279.5" width="262.5" height="190.0" fill="none" stroke="#333" stroke-width="1"/>
<line x1="404.50" y1="469.50" x2="408.50" y2="469.50" stroke="#333" stroke-width="1" />
<text stroke="#1a1a1a" stroke-width="0.3" transform="translate(399.80,474.10) scale(1,1.0)" x="0" y="0" font-size="15" fill="#1a1a1a" text-anchor="end" >0</text>
<line x1="404.50" y1="445.75" x2="408.50" y2="445.75" stroke="#333" stroke-width="1" />
<text stroke="#1a1a1a" stroke-width="0.3" transform="translate(399.80,450.35) scale(1,1.0)" x="0" y="0" font-size="15" fill="#1a1a1a" text-anchor="end" >50</text>
<line x1="404.50" y1="422.00" x2="408.50" y2="422.00" stroke="#333" stroke-width="1" />
<text stroke="#1a1a1a" stroke-width="0.3" transform="translate(399.80,426.60) scale(1,1.0)" x="0" y="0" font-size="15" fill="#1a1a1a" text-anchor="end" >100</text>
<line x1="404.50" y1="398.25" x2="408.50" y2="398.25" stroke="#333" stroke-width="1" />
<text stroke="#1a1a1a" stroke-width="0.3" transform="translate(399.80,402.85) scale(1,1.0)" x="0" y="0" font-size="15" fill="#1a1a1a" text-anchor="end" >150</text>
<line x1="404.50" y1="374.50" x2="408.50" y2="374.50" stroke="#333" stroke-width="1" />
<text stroke="#1a1a1a" stroke-width="0.3" transform="translate(399.80,379.10) scale(1,1.0)" x="0" y="0" font-size="15" fill="#1a1a1a" text-anchor="end" >200</text>
<line x1="404.50" y1="350.75" x2="408.50" y2="350.75" stroke="#333" stroke-width="1" />
<text stroke="#1a1a1a" stroke-width="0.3" transform="translate(399.80,355.35) scale(1,1.0)" x="0" y="0" font-size="15" fill="#1a1a1a" text-anchor="end" >250</text>
<line x1="404.50" y1="327.00" x2="408.50" y2="327.00" stroke="#333" stroke-width="1" />
<text stroke="#1a1a1a" stroke-width="0.3" transform="translate(399.80,331.60) scale(1,1.0)" x="0" y="0" font-size="15" fill="#1a1a1a" text-anchor="end" >300</text>
<line x1="404.50" y1="303.25" x2="408.50" y2="303.25" stroke="#333" stroke-width="1" />
<text stroke="#1a1a1a" stroke-width="0.3" transform="translate(399.80,307.85) scale(1,1.0)" x="0" y="0" font-size="15" fill="#1a1a1a" text-anchor="end" >350</text>
<line x1="404.50" y1="279.50" x2="408.50" y2="279.50" stroke="#333" stroke-width="1" />
<text stroke="#1a1a1a" stroke-width="0.3" transform="translate(399.80,284.10) scale(1,1.0)" x="0" y="0" font-size="15" fill="#1a1a1a" text-anchor="end" >400</text>
<line x1="422.60" y1="469.50" x2="422.60" y2="465.50" stroke="#333" stroke-width="1" />
<line x1="453.10" y1="469.50" x2="453.10" y2="467.00" stroke="#333" stroke-width="1" />
<line x1="483.60" y1="469.50" x2="483.60" y2="465.50" stroke="#333" stroke-width="1" />
<line x1="514.10" y1="469.50" x2="514.10" y2="467.00" stroke="#333" stroke-width="1" />
<line x1="544.60" y1="469.50" x2="544.60" y2="465.50" stroke="#333" stroke-width="1" />
<line x1="575.10" y1="469.50" x2="575.10" y2="467.00" stroke="#333" stroke-width="1" />
<line x1="605.60" y1="469.50" x2="605.60" y2="465.50" stroke="#333" stroke-width="1" />
<line x1="636.10" y1="469.50" x2="636.10" y2="467.00" stroke="#333" stroke-width="1" />
<text stroke="#1a1a1a" stroke-width="0.3" transform="translate(422.60,487.40) scale(1,1.0)" x="0" y="0" font-size="15" fill="#1a1a1a" text-anchor="middle" >50.0</text>
<text stroke="#1a1a1a" stroke-width="0.3" transform="translate(483.60,487.40) scale(1,1.0)" x="0" y="0" font-size="15" fill="#1a1a1a" text-anchor="middle" >50.5</text>
<text stroke="#1a1a1a" stroke-width="0.3" transform="translate(544.60,487.40) scale(1,1.0)" x="0" y="0" font-size="15" fill="#1a1a1a" text-anchor="middle" >51.0</text>
<text stroke="#1a1a1a" stroke-width="0.3" transform="translate(605.60,487.40) scale(1,1.0)" x="0" y="0" font-size="15" fill="#1a1a1a" text-anchor="middle" >51.5</text>
<text stroke="#1a1a1a" stroke-width="0.3" transform="translate(666.60,487.40) scale(1,1.0)" x="0" y="0" font-size="15" fill="#1a1a1a" text-anchor="middle" >52.0</text>
<text stroke="#1a1a1a" stroke-width="0.3" transform="translate(539.20,508.90) scale(1,1.0)" x="0" y="0" font-size="15.4" fill="#1a1a1a" text-anchor="middle" >Ti-xNi (at.%)</text>
<text stroke="#1a1a1a" stroke-width="0.3" transform="translate(366.9,422.8) rotate(-90) scale(1,1.0)" font-size="15.4" fill="#1a1a1a">Temperature (K)</text>
<path d="M572.00,461.9 L578.20,461.9 L575.10,467.0 Z" fill="#111"/>
<path d="M608.60,461.9 L614.80,461.9 L611.70,467.0 Z" fill="#111"/>
<path d="M633.00,461.9 L639.20,461.9 L636.10,467.0 Z" fill="#111"/>
<text transform="translate(574.90,436.30) scale(1,1.0)" x="0" y="0" font-size="9.6" fill="#1a1a1a" text-anchor="start" >No</text>
<text transform="translate(574.90,448.40) scale(1,1.0)" x="0" y="0" font-size="9.6" fill="#1a1a1a" text-anchor="start" >transformation</text>
<rect x="547.8" y="292.0" width="115.6" height="37.2" fill="#fff" stroke="#8a7f7a" stroke-width="0.9"/>
<text stroke="#1a1a1a" stroke-width="0.3" transform="translate(553.60,306.20) scale(1,1.0)" x="0" y="0" font-size="12.7" fill="#1a1a1a" text-anchor="start" >Transformation</text>
<text stroke="#1a1a1a" stroke-width="0.3" transform="translate(553.20,322.70) scale(1,1.0)" x="0" y="0" font-size="12.7" fill="#1a1a1a" text-anchor="start" >temperature range</text>
<text stroke="#2158ab" stroke-width="0.3" transform="translate(486.1,377.1) scale(1,1.0)" x="0" y="0" font-size="18.5" fill="#2158ab"><tspan font-style="italic">T</tspan><tspan font-size="12.8" dx="-1.8" dy="1.9">Ms</tspan></text>
<text stroke="#e3242f" stroke-width="0.3" transform="translate(576.8,367.5) scale(1,1.0)" x="0" y="0" font-size="18.5" fill="#e3242f"><tspan font-style="italic">T</tspan><tspan font-size="12.8" dx="-1.8" dy="1.9">Af</tspan></text>
<rect x="430.9" y="408.6" width="79.5" height="45.8" fill="#fff" stroke="#888" stroke-width="0.9"/>
<circle cx="439.40" cy="415.80" r="3.1" fill="#5a8ac5"/>
<text transform="translate(447.70,417.80) scale(1,1.0)" x="0" y="0" font-size="9.7" fill="#1a1a1a"><tspan font-style="italic">T</tspan><tspan font-size="5.9" dx="-0.3" dy="1.9">Ms</tspan></text>
<text transform="translate(464.40,417.80) scale(1,1.0)" x="0" y="0" font-size="9.7" fill="#1a1a1a">by ER</text>
<text transform="translate(491.12,414.40) scale(1,1.0)" x="0" y="0" font-size="6.4" fill="#1a1a1a">46</text>
<circle cx="439.40" cy="427.00" r="2.6" fill="#fff" stroke="#e0404e" stroke-width="0.8"/>
<text transform="translate(447.70,429.00) scale(1,1.0)" x="0" y="0" font-size="9.7" fill="#1a1a1a"><tspan font-style="italic">T</tspan><tspan font-size="5.9" dx="-0.3" dy="1.9">Af</tspan></text>
<text transform="translate(464.40,429.00) scale(1,1.0)" x="0" y="0" font-size="9.7" fill="#1a1a1a">by ER</text>
<text transform="translate(491.12,425.60) scale(1,1.0)" x="0" y="0" font-size="6.4" fill="#1a1a1a">46</text>
<rect x="436.60" y="435.20" width="5.6" height="5.6" fill="#5a8ac5"/>
<text transform="translate(447.70,440.00) scale(1,1.0)" x="0" y="0" font-size="9.7" fill="#1a1a1a"><tspan font-style="italic">T</tspan><tspan font-size="5.9" dx="-0.3" dy="1.9">Ms</tspan></text>
<text transform="translate(464.40,440.00) scale(1,1.0)" x="0" y="0" font-size="9.7" fill="#1a1a1a">by DSC</text>
<text transform="translate(498.13,436.60) scale(1,1.0)" x="0" y="0" font-size="6.4" fill="#1a1a1a">46</text>
<rect x="437.10" y="446.60" width="4.6000000000000005" height="4.6000000000000005" fill="#fff" stroke="#e0404e" stroke-width="0.8"/>
<text transform="translate(447.70,450.90) scale(1,1.0)" x="0" y="0" font-size="9.7" fill="#1a1a1a"><tspan font-style="italic">T</tspan><tspan font-size="5.9" dx="-0.3" dy="1.9">Af</tspan></text>
<text transform="translate(464.40,450.90) scale(1,1.0)" x="0" y="0" font-size="9.7" fill="#1a1a1a">by DSC</text>
<text transform="translate(498.13,447.50) scale(1,1.0)" x="0" y="0" font-size="6.4" fill="#1a1a1a">46</text>
</svg></body></html>
